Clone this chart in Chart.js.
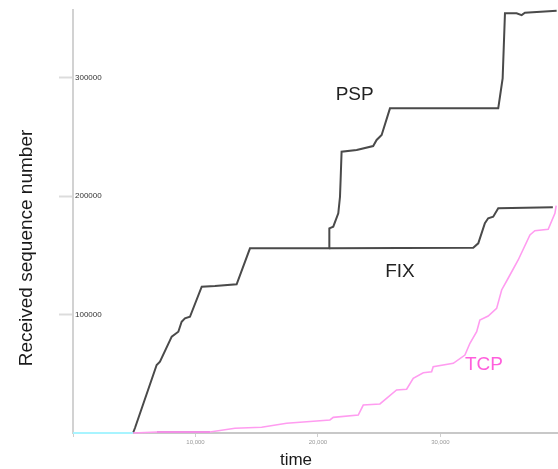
<!DOCTYPE html>
<html>
<head>
<meta charset="utf-8">
<script src="https://cdn.jsdelivr.net/npm/chart.js@4"></script>
<style>
  html, body { margin: 0; padding: 0; background: #fff; }
  #wrap { width: 558px; height: 469px; position: relative; }
</style>
</head>
<body>
<div id="wrap"><canvas id="c"></canvas></div>
<script>
// time values (x) and received sequence numbers (y)
const baseTime = [0, 4.9];
const baseSeq = [0, 0];

const fixTime = [4.9, 5.06, 6.83, 7.1, 8.06, 8.6, 8.87, 9.14, 9.55, 10.51, 11.59, 13.36, 14.45, 20.92, 32.68, 33.09, 33.63, 33.9, 34.31, 34.72, 39.18];
const fixSeq = [0, 4200, 57400, 60200, 81300, 85500, 93900, 96800, 98100, 123500, 124100, 125500, 155900, 155900, 156400, 160100, 177000, 181200, 182500, 189600, 190500];

const pspTime = [20.92, 20.93, 21.25, 21.66, 21.8, 21.85, 21.93, 23.16, 24.51, 24.79, 25.2, 25.88, 34.72, 34.86, 35.08, 35.27, 36.22, 36.63, 36.9, 39.49];
const pspSeq = [155900, 172700, 174100, 185400, 199400, 213500, 237400, 238800, 242200, 247300, 251500, 274000, 274000, 283800, 299300, 354200, 354200, 352700, 354700, 356400];

const tcpTime = [4.9, 6.86, 11.18, 13.22, 15.4, 17.44, 20.98, 21.25, 23.29, 23.7, 25.06, 26.42, 27.24, 27.78, 28.6, 29.28, 29.41, 31.05, 32.0, 32.41, 32.96, 33.22, 33.9, 34.59, 35.0, 35.53, 36.35, 37.31, 37.71, 38.8, 39.35, 39.45];
const tcpSeq = [0, 800, 800, 4000, 4800, 8200, 11000, 13200, 15200, 23600, 24500, 36300, 36900, 46200, 50900, 51700, 56000, 58800, 65800, 75700, 85500, 95400, 98700, 105200, 120700, 130600, 146000, 167100, 170700, 171900, 185400, 192000];

const tcpEarlyTime = [6.86, 11.18];
const tcpEarlySeq = [800, 800];

const xTickValues = [0, 10, 20, 30];
const xTickLabels = ['', '10,000', '20,000', '30,000'];
const yTickValues = [0, 50000, 100000, 150000, 200000, 250000, 300000, 350000];
const yTickLabels = ['', '', '100000', '', '200000', '', '300000', ''];

// curve names placed in data space
const curveNames = ['PSP', 'FIX', 'TCP'];
const nameTime = [23.0, 26.7, 33.55];
const nameSeq = [285200, 135900, 57400];
const nameColors = ['#222', '#222', '#ff5fdc'];

function pts(xs, ys) {
    return xs.map((x, i) => ({ x: x, y: ys[i] }));
}

function line(label, xs, ys, color, width) {
    return {
        label: label,
        data: pts(xs, ys),
        borderColor: color,
        borderWidth: width,
        pointRadius: 0,
        tension: 0,
        fill: false,
        clip: false
    };
}

const curveNamePlugin = {
    id: 'curveNames',
    afterDatasetsDraw(chart) {
        const ctx = chart.ctx;
        const xs = chart.scales.x, ys = chart.scales.y;
        ctx.save();
        ctx.font = '19px "Liberation Sans", Arial, sans-serif';
        ctx.textAlign = 'center';
        ctx.textBaseline = 'middle';
        curveNames.forEach((name, i) => {
            ctx.fillStyle = nameColors[i];
            ctx.fillText(name, xs.getPixelForValue(nameTime[i]), ys.getPixelForValue(nameSeq[i]));
        });
        ctx.restore();
    }
};

const axisTitlePlugin = {
    id: 'axisTitles',
    afterDraw(chart) {
        const ctx = chart.ctx;
        ctx.save();
        ctx.fillStyle = '#1a1a1a';
        ctx.font = '19px "Liberation Sans", Arial, sans-serif';
        ctx.textAlign = 'center';
        ctx.textBaseline = 'middle';
        ctx.translate(27, 248);
        ctx.rotate(-Math.PI / 2);
        ctx.fillText('Received sequence number', 0, 0);
        ctx.restore();

        ctx.save();
        ctx.fillStyle = '#1a1a1a';
        ctx.font = '17px "Liberation Sans", Arial, sans-serif';
        ctx.textAlign = 'center';
        ctx.textBaseline = 'middle';
        ctx.fillText('time', 296, 460);
        ctx.restore();
    }
};

new Chart(document.getElementById('c'), {
    type: 'line',
    data: {
        datasets: [
            line('start', baseTime, baseSeq, '#a8f4ff', 2),
            line('TCP', tcpTime, tcpSeq, '#ff9cf0', 1.6),
            line('TCP early', tcpEarlyTime, tcpEarlySeq, '#c76ac7', 2),
            line('FIX', fixTime, fixSeq, '#4a4a4a', 2),
            line('PSP', pspTime, pspSeq, '#4a4a4a', 2)
        ]
    },
    options: {
        responsive: true,
        maintainAspectRatio: false,
        animation: false,
        layout: { padding: { top: 10, right: 0, bottom: 0, left: 0 } },
        scales: {
            x: {
                type: 'linear',
                min: 0,
                max: 39.6,
                afterFit(scale) { scale.height = 36; },
                afterBuildTicks(scale) { scale.ticks = xTickValues.map(v => ({ value: v })); },
                border: { color: '#c8c8c8', width: 2 },
                grid: {
                    drawOnChartArea: false,
                    tickLength: 4,
                    tickColor: '#cfcfcf'
                },
                ticks: {
                    padding: 2,
                    color: '#999',
                    font: { size: 6, family: '"Liberation Sans", Arial, sans-serif' },
                    callback: (v, i) => xTickLabels[i] || ''
                }
            },
            y: {
                min: 0,
                max: 357000,
                afterFit(scale) { scale.width = 73; },
                afterBuildTicks(scale) { scale.ticks = yTickValues.map(v => ({ value: v })); },
                border: { color: '#d2d2d2', width: 2 },
                grid: {
                    drawOnChartArea: false,
                    tickLength: 14,
                    tickWidth: 2,
                    tickColor: (c) => (yTickLabels[c.index] ? '#dcdcdc' : 'rgba(0,0,0,0)')
                },
                ticks: {
                    mirror: true,
                    padding: 2,
                    color: '#333',
                    font: { size: 8, family: '"Liberation Sans", Arial, sans-serif' },
                    callback: (v, i) => yTickLabels[i] || ''
                }
            }
        },
        plugins: {
            legend: { display: false },
            tooltip: { enabled: false }
        }
    },
    plugins: [curveNamePlugin, axisTitlePlugin]
});
</script>
</body>
</html>
